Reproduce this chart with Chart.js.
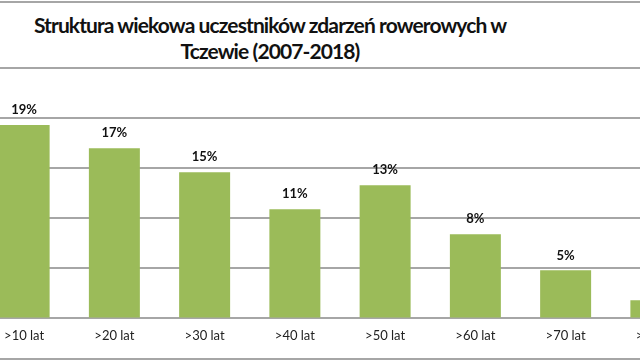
<!DOCTYPE html>
<html>
<head>
<meta charset="utf-8">
<script src="https://cdn.jsdelivr.net/npm/chart.js@4.4.1/dist/chart.umd.min.js"></script>
<style>
    html, body { margin: 0; padding: 0; background: #fff; overflow: hidden; }
    body { width: 640px; height: 360px; position: relative; font-family: Lato, "Open Sans", sans-serif; }
    .frame { position: absolute; left: -10px; top: 1px; width: 660px; height: 355px;
             border-top: 2px solid #a6a6a6; border-bottom: 2px solid #a6a6a6; }
    .title { position: absolute; left: 0; top: 12px; width: 540px; text-align: center;
             font: bold 21px Lato, sans-serif; line-height: 26px; letter-spacing: -0.9px; color: #111; }
    .graph { position: absolute; left: -21px; top: 0; width: 722px; height: 354px; }
</style>
</head>
<body>
<div class="frame"></div>
<div class="title">Struktura wiekowa uczestników zdarzeń rowerowych w<br>Tczewie (2007-2018)</div>
<div class="graph"><canvas id="wiek"></canvas></div>
<script>
const ageGroups = [">10 lat", ">20 lat", ">30 lat", ">40 lat", ">50 lat", ">60 lat", ">70 lat", ">80 lat"];
const shares = [19.3, 17.0, 14.6, 10.9, 13.3, 8.4, 4.8, 1.8];
const yTicks = [0, 5, 10, 15, 20, 25];

// simple value labels above the bars (no datalabels plugin offline)
const barLabels = {
    id: "barLabels",
    afterDatasetsDraw(chart) {
        const ctx = chart.ctx;
        const meta = chart.getDatasetMeta(0);
        ctx.save();
        ctx.font = "bold 13px Lato, sans-serif";
        ctx.fillStyle = "#111";
        ctx.textAlign = "center";
        ctx.textBaseline = "middle";
        meta.data.forEach((bar, i) => {
            ctx.fillText(Math.round(shares[i]) + "%", bar.x, bar.y - 15);
        });
        ctx.restore();
    },
};

new Chart(document.getElementById("wiek"), {
    type: "bar",
    data: {
        labels: ageGroups,
        datasets: [
            {
                data: shares,
                backgroundColor: "#9bbb59",
                categoryPercentage: 1,
                barPercentage: 0.565,
            },
        ],
    },
    options: {
        responsive: true,
        maintainAspectRatio: false,
        animation: false,
        layout: { padding: { top: 68, left: 0, right: 0, bottom: 0 } },
        plugins: { legend: { display: false }, tooltip: { enabled: false } },
        scales: {
            x: {
                grid: { display: false, drawTicks: false },
                border: { color: "#a6a6a6", width: 2 },
                ticks: { color: "#222", font: { family: "Lato", size: 13 }, padding: 10, maxRotation: 0 },
            },
            y: {
                min: yTicks[0],
                max: yTicks[yTicks.length - 1],
                afterBuildTicks: (axis) => { axis.ticks = yTicks.map((v) => ({ value: v })); },
                grid: { color: "#a6a6a6", lineWidth: 2, drawTicks: false },
                border: { display: false },
                ticks: { display: false },
            },
        },
    },
    plugins: [barLabels],
});
</script>
</body>
</html>
